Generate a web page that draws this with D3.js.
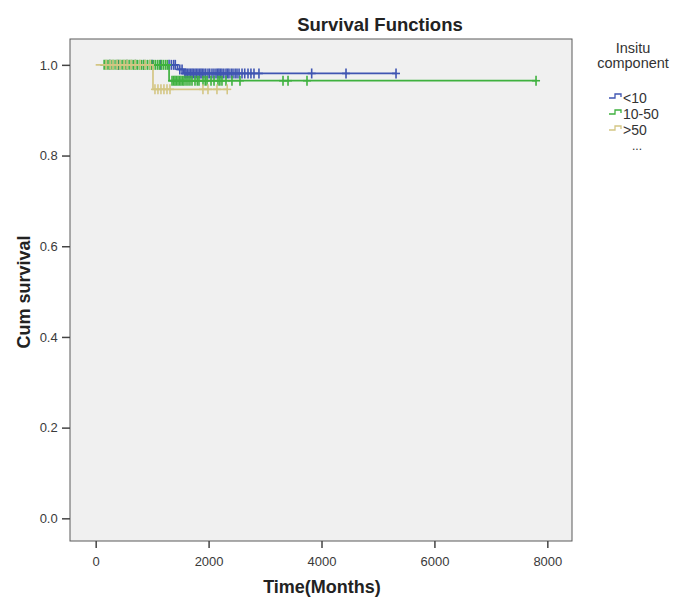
<!DOCTYPE html>
<html>
<head>
<meta charset="utf-8">
<script src="https://cdn.jsdelivr.net/npm/d3@7"></script>
<style>
  body { margin: 0; background: #fff; }
  svg text { font-family: Arial, "Liberation Sans", sans-serif; }
</style>
</head>
<body>
<div id="chart"></div>
<script>
// groups and colours
var groups = ['<10', '10-50', '>50'];
var colors = ['#3f55b2', '#3fb13f', '#d4c684'];

// survival steps [time, cum survival]
var stepsLt10 = [[100, 1.0], [1450, 0.990], [1560, 0.981]];
var steps1050 = [[120, 1.0], [1300, 0.965]];
var stepsGt50 = [[0, 1.0], [1015, 0.946]];

// censored times (months)
var censLt10 = [250, 400, 550, 700, 850, 1000, 1150, 1300, 1340, 1380, 1410, 1490, 1530,
  1580, 1600, 1625, 1653, 1680, 1706, 1730, 1759, 1785, 1812, 1840, 1865, 1890,
  1918, 1950, 1989, 2020, 2060, 2095, 2131, 2160, 2184, 2210, 2237, 2270, 2308,
  2335, 2361, 2400, 2432, 2470, 2503, 2540, 2592, 2640, 2698, 2750, 2804, 2892,
  3826, 4434, 5320];
var cens1050 = [150, 182, 218, 251, 290, 322, 361, 394, 430, 468, 500, 537, 570,
  606, 641, 675, 712, 744, 781, 815, 852, 884, 920, 957, 990, 1026, 1060, 1097,
  1130, 1166, 1200, 1236, 1268, 1352, 1380, 1405, 1430, 1458, 1485, 1511, 1540,
  1564, 1600, 1635, 1670, 1706, 1759, 1800, 1830, 1901, 1940, 1972, 2043, 2096,
  2166, 2200, 2237, 2308, 2414, 2556, 3318, 3407, 3743, 7800];
var censGt50 = [184, 255, 307, 379, 432, 503, 556, 627, 698, 786, 875, 963,
  1050, 1103, 1156, 1209, 1263, 1316, 1900, 1989, 2148, 2330];

var xTicks = [0, 2000, 4000, 6000, 8000];
var yTicks = [0.0, 0.2, 0.4, 0.6, 0.8, 1.0];

var allSteps = [stepsLt10, steps1050, stepsGt50];
var allCens = [censLt10, cens1050, censGt50];

var svgWidth = 673, svgHeight = 597;
var plotLeft = 70, plotRight = 572, plotTop = 39, plotBottom = 541;

var svg = d3.select('#chart').append('svg')
  .attr('width', svgWidth)
  .attr('height', svgHeight);

var x = d3.scaleLinear().domain([-455, 8437]).range([plotLeft, plotRight]);
var y = d3.scaleLinear().domain([-0.05, 1.057]).range([plotBottom, plotTop]);

// plot background
svg.append('rect')
  .attr('x', plotLeft).attr('y', plotTop)
  .attr('width', plotRight - plotLeft).attr('height', plotBottom - plotTop)
  .attr('fill', '#f0f0f0')
  .attr('stroke', '#5a5a5a')
  .attr('stroke-width', 1);

// axes
var xaxis = svg.append('g')
  .attr('transform', 'translate(0,' + plotBottom + ')')
  .call(d3.axisBottom(x).tickValues(xTicks).tickFormat(d3.format('d')).tickSize(7).tickSizeOuter(0));
var yaxis = svg.append('g')
  .attr('transform', 'translate(' + plotLeft + ',0)')
  .call(d3.axisLeft(y).tickValues(yTicks).tickFormat(d3.format('.1f')).tickSize(8).tickSizeOuter(0));

[xaxis, yaxis].forEach(function(a) {
  a.select('.domain').remove();
  a.selectAll('line').attr('stroke', '#444').attr('stroke-width', 1.5);
  a.selectAll('text').attr('fill', '#3a3a3a').style('font-size', '13px');
});
xaxis.selectAll('text').attr('dy', '1.15em');
yaxis.selectAll('text').attr('dx', '-0.1em');

// step lookup
function survAt(steps, t) {
  var s = steps[0][1];
  steps.forEach(function(p) { if (p[0] <= t) s = p[1]; });
  return s;
}

var line = d3.line()
  .x(function(d) { return x(d[0]); })
  .y(function(d) { return y(d[1]); })
  .curve(d3.curveStepAfter);

var plot = svg.append('g');

groups.forEach(function(g, i) {
  var steps = allSteps[i];
  var cens = allCens[i];
  var tEnd = d3.max(cens);
  var pts = steps.concat([[tEnd, steps[steps.length - 1][1]]]);
  var gg = plot.append('g');
  gg.append('path')
    .attr('d', line(pts))
    .attr('fill', 'none')
    .attr('stroke', colors[i])
    .attr('stroke-width', 1.7);
  var marks = gg.selectAll('g.c')
    .data(cens)
    .join('g')
    .attr('transform', function(t) { return 'translate(' + x(t) + ',' + y(survAt(steps, t)) + ')'; });
  marks.append('line')
    .attr('x1', -4).attr('x2', 4).attr('y1', 0).attr('y2', 0)
    .attr('stroke', colors[i]).attr('stroke-width', 1.6);
  marks.append('line')
    .attr('x1', 0).attr('x2', 0).attr('y1', -5).attr('y2', 5)
    .attr('stroke', colors[i]).attr('stroke-width', 1.6);
});

// title and axis titles
svg.append('text')
  .attr('x', 380).attr('y', 31)
  .attr('text-anchor', 'middle')
  .style('font-size', '18.5px').style('font-weight', 'bold')
  .attr('fill', '#222')
  .text('Survival Functions');

svg.append('text')
  .attr('x', 322).attr('y', 593)
  .attr('text-anchor', 'middle')
  .style('font-size', '18px').style('font-weight', 'bold')
  .attr('fill', '#222')
  .text('Time(Months)');

svg.append('text')
  .attr('transform', 'translate(30,292) rotate(-90)')
  .attr('text-anchor', 'middle')
  .style('font-size', '18px').style('font-weight', 'bold')
  .attr('fill', '#222')
  .text('Cum survival');

// legend
var legend = svg.append('g');
legend.append('text')
  .attr('x', 633).attr('y', 53)
  .attr('text-anchor', 'middle')
  .style('font-size', '14.5px').attr('fill', '#333')
  .text('Insitu');
legend.append('text')
  .attr('x', 633).attr('y', 68)
  .attr('text-anchor', 'middle')
  .style('font-size', '14.5px').attr('fill', '#333')
  .text('component');

groups.forEach(function(g, i) {
  var ly = 98 + i * 16;
  legend.append('path')
    .attr('d', 'M609,' + ly + 'H615V' + (ly - 4) + 'H621V' + (ly - 1))
    .attr('fill', 'none')
    .attr('stroke', colors[i])
    .attr('stroke-width', 1.3);
  legend.append('text')
    .attr('x', 623).attr('y', ly + 5)
    .style('font-size', '14px').attr('fill', '#333')
    .text(g);
});
legend.append('text')
  .attr('x', 637).attr('y', 150)
  .attr('text-anchor', 'middle')
  .style('font-size', '12px').attr('fill', '#333')
  .text('...');
</script>
</body>
</html>
